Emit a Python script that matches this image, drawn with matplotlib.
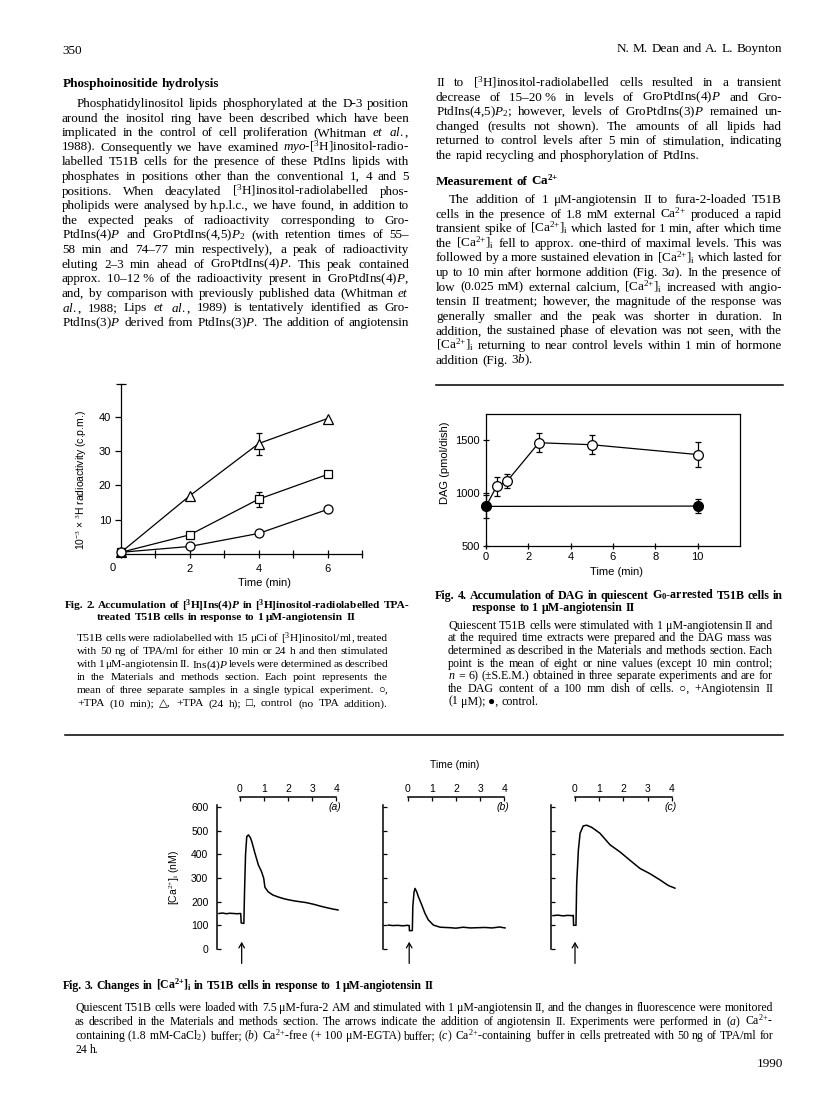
import matplotlib
matplotlib.use('Agg')
import matplotlib.pyplot as plt
import matplotlib.transforms as mtransforms
from matplotlib.lines import Line2D

# --- data ---
fig2_time = [0, 2, 4, 6]
fig2_tpa10 = [0.5, 2.2, 6.0, 13.0]      # circles, +TPA (10 min)
fig2_tpa24 = [0.5, 17.0, 32.2, 39.5]    # triangles, +TPA (24 h)
fig2_control = [0.5, 5.6, 16.0, 23.2]   # squares, control
fig2_tpa24_err = [0, 0, 3.2, 0]
fig2_control_err = [0, 0, 2.2, 0]

fig4_time_ang = [0, 0.5, 1, 2.5, 5, 10]
fig4_dag_ang = [875, 1065, 1115, 1478, 1459, 1366]
fig4_err_ang = [0, 90, 70, 88, 88, 118]
fig4_time_ctl = [0, 10]
fig4_dag_ctl = [875, 878]
fig4_err_ctl = [110, 63]

fig3a_t = [-0.85, -0.7, -0.55, -0.4, -0.25, -0.1, 0.05, 0.07, 0.18, 0.21, 0.25, 0.3, 0.37,
           0.45, 0.51, 0.64, 0.78, 0.91, 1.0, 1.05, 1.18, 1.38, 1.65, 1.85, 2.07, 2.28,
           2.48, 2.7, 2.89, 3.1, 3.31, 3.5, 3.72, 3.9, 4.07]
fig3a_ca = [150, 152, 149, 151, 150, 149, 150, 110, 108, 250, 400, 475, 482,
            470, 453, 404, 355, 327, 299, 261, 242, 228, 218, 212, 207, 203,
            200, 197, 193, 188, 182, 177, 172, 168, 165]
fig3b_t = [-0.79, -0.6, -0.4, -0.2, 0.0, 0.07, 0.08, 0.2, 0.22, 0.27, 0.31, 0.38, 0.45,
           0.59, 0.72, 0.86, 1.07, 1.35, 1.76, 2.0, 2.3, 2.6, 2.9, 3.2, 3.5, 3.8, 4.03]
fig3b_ca = [101, 99, 100, 98, 100, 99, 77, 78, 180, 240, 256, 242, 221,
            186, 151, 123, 101, 92, 90, 88, 92, 89, 90, 91, 89, 93, 89]
fig3c_t = [-0.91, -0.7, -0.5, -0.3, -0.1, -0.07, -0.06, 0.04, 0.07, 0.14, 0.21, 0.34, 0.48,
           0.69, 1.03, 1.45, 1.86, 2.27, 2.69, 3.1, 3.51, 3.86, 4.13]
fig3c_ca = [141, 143, 140, 142, 141, 142, 100, 100, 277, 418, 489, 520, 523,
            514, 489, 440, 410, 375, 340, 318, 292, 268, 257]
fig3_inject = [0.09, 0.07, 0.0]
fig3_panels = ['(a)', '(b)', '(c)']
fig3_scale_ticks = [0, 1, 2, 3, 4]
fig3_yticks = [0, 100, 200, 300, 400, 500, 600]

CA = r"Ca$^{2{+}}$"
CAI = r"[Ca$^{2{+}}$]$_{\mathrm{i}}$"

# --- page text ---
left_col = [
    "Phosphatidylinositol lipids phosphorylated at the D-3 position",
    "around the inositol ring have been described which have been",
    r"implicated in the control of cell proliferation (Whitman $\mathit{et}$ $\mathit{al.}$,",
    r"1988). Consequently we have examined $\mathit{myo}$-[$^{3}$H]inositol-radio-",
    "labelled T51B cells for the presence of these PtdIns lipids with",
    "phosphates in positions other than the conventional 1, 4 and 5",
    r"positions. When deacylated [$^{3}$H]inositol-radiolabelled phos-",
    "pholipids were analysed by h.p.l.c., we have found, in addition to",
    "the expected peaks of radioactivity corresponding to Gro-",
    r"PtdIns(4)$\mathit{P}$ and GroPtdIns(4,5)$\mathit{P}_{2}$ (with retention times of 55–",
    "58 min and 74–77 min respectively), a peak of radioactivity",
    r"eluting 2–3 min ahead of GroPtdIns(4)$\mathit{P}$. This peak contained",
    "approx. 10–12\u00a0% of the radioactivity present in GroPtdIns(4)$\\mathit{P}$,",
    r"and, by comparison with previously published data (Whitman $\mathit{et}$",
    r"$\mathit{al.}$, 1988; Lips $\mathit{et}$ $\mathit{al.}$, 1989) is tentatively identified as Gro-",
    r"PtdIns(3)$\mathit{P}$ derived from PtdIns(3)$\mathit{P}$. The addition of angiotensin",
]
right_col1 = [
    r"II to [$^{3}$H]inositol-radiolabelled cells resulted in a transient",
    "decrease of 15–20\u00a0% in levels of GroPtdIns(4)$\\mathit{P}$ and Gro-",
    r"PtdIns(4,5)$\mathit{P}_{2}$; however, levels of GroPtdIns(3)$\mathit{P}$ remained un-",
    "changed (results not shown). The amounts of all lipids had",
    "returned to control levels after 5 min of stimulation, indicating",
    "the rapid recycling and phosphorylation of PtdIns.",
]
right_col2 = [
    "The addition of 1 μM-angiotensin II to fura-2-loaded T51B",
    "cells in the presence of 1.8 mM external " + CA + " produced a rapid",
    "transient spike of " + CAI + " which lasted for 1 min, after which time",
    "the " + CAI + " fell to approx. one-third of maximal levels. This was",
    "followed by a more sustained elevation in " + CAI + " which lasted for",
    r"up to 10 min after hormone addition (Fig. 3$\mathit{a}$). In the presence of",
    "low (0.025 mM) external calcium, " + CAI + " increased with angio-",
    "tensin II treatment; however, the magnitude of the response was",
    "generally smaller and the peak was shorter in duration. In",
    "addition, the sustained phase of elevation was not seen, with the",
    CAI + " returning to near control levels within 1 min of hormone",
    r"addition (Fig. 3$\mathit{b}$).",
]
fig2_body = [
    r"T51B cells were radiolabelled with 15 μCi of [$^{3}$H]inositol/ml, treated",
    "with 50 ng of TPA/ml for either 10 min or 24 h and then stimulated",
    r"with 1 μM-angiotensin II. Ins(4)$\mathit{P}$ levels were determined as described",
    "in the Materials and methods section. Each point represents the",
    "mean of three separate samples in a single typical experiment. ○,",
    "+TPA (10 min); △, +TPA (24 h); □, control (no TPA addition).",
]
fig4_body = [
    "Quiescent T51B cells were stimulated with 1 μM-angiotensin II and",
    "at the required time extracts were prepared and the DAG mass was",
    "determined as described in the Materials and methods section. Each",
    "point is the mean of eight or nine values (except 10 min control;",
    r"$\mathit{n}$ = 6) (±S.E.M.) obtained in three separate experiments and are for",
    "the DAG content of a 100 mm dish of cells. ○, +Angiotensin II",
    "(1 μM); ●, control.",
]
fig3_body = [
    "Quiescent T51B cells were loaded with 7.5 μM-fura-2 AM and stimulated with 1 μM-angiotensin II, and the changes in fluorescence were monitored",
    r"as described in the Materials and methods section. The arrows indicate the addition of angiotensin II. Experiments were performed in ($\mathit{a}$) " + CA + "-",
    "containing (1.8 mM-CaCl$_{2}$) buffer; ($\\mathit{b}$) " + CA + "-free (+\u00a0100 μM-EGTA) buffer; ($\\mathit{c}$) " + CA + "-containing buffer in cells pretreated with 50 ng of TPA/ml for",
    "24 h.",
]

W, H = 816, 1093
SERIF = ['Liberation Serif', 'DejaVu Sans']
SANS = ['Liberation Sans', 'DejaVu Sans']

plt.rcParams['mathtext.fontset'] = 'custom'
plt.rcParams['mathtext.rm'] = 'Liberation Serif'
plt.rcParams['mathtext.it'] = 'Liberation Serif:italic'
plt.rcParams['mathtext.bf'] = 'Liberation Serif:bold'
plt.rcParams['mathtext.sf'] = 'Liberation Sans'
BFIT = r'\mathit'
if 'mathtext.bfit' in plt.rcParams:
    plt.rcParams['mathtext.bfit'] = 'Liberation Serif:bold:italic'
    BFIT = r'\mathbfit'

fig = plt.figure(figsize=(W / 100, H / 100), dpi=100)
fig.patch.set_facecolor('white')
renderer = fig.canvas.get_renderer()


def px_rect(l, t, r, b):
    return [l / W, 1 - b / H, (r - l) / W, (b - t) / H]


def ftext(x, y, s, **kw):
    return fig.text(x / W, 1 - y / H, s, **kw)


def word_widths(words, size, weight):
    arts = [fig.text(0, 0, w, fontsize=size, fontweight=weight, family=SERIF,
                     va='baseline', ha='left') for w in words]
    return arts, [a.get_window_extent(renderer).width for a in arts]


def fit_size(lines, x0, x1, indent=0, weight='normal', skip_last=True, base=10.0, space=0.24):
    # largest size at which the fullest line still has normal word spacing
    ratios = []
    for i, ln in enumerate(lines):
        if skip_last and i == len(lines) - 1 and len(lines) > 1:
            continue
        words = ln.split(' ')
        arts, ws = word_widths(words, base, weight)
        for a in arts:
            a.remove()
        need = sum(ws) + (len(words) - 1) * base * 100 / 72 * space
        avail = x1 - x0 - (indent if i == 0 else 0)
        ratios.append(avail / need)
    return base * min(ratios)


def text_line(x0, x1, yc, line, size, weight='normal', justify=True, ha='left'):
    words = line.split(' ')
    arts, widths = word_widths(words, size, weight)
    space = size * 100 / 72 * 0.25
    if justify and len(words) > 1:
        gap = (x1 - x0 - sum(widths)) / (len(words) - 1)
    else:
        gap = space
    x = x0
    if ha == 'right':
        x = x1 - sum(widths) - gap * (len(words) - 1)
    base = yc + size * 100 / 72 * 0.3
    for a, w in zip(arts, widths):
        a.set_position((x / W, 1 - base / H))
        x += w + gap


def paragraph(x0, x1, y0, dy, lines, size=None, indent=0, last_left=True, weight='normal'):
    if size is None:
        size = fit_size(lines, x0, x1, indent, weight, skip_last=last_left)
    for i, ln in enumerate(lines):
        xs = x0 + (indent if i == 0 else 0)
        last = (i == len(lines) - 1) and last_left
        text_line(xs, x1, y0 + i * dy, ln, size, weight=weight, justify=not last)
    return size


# --- running text ---
body = min(fit_size(left_col, 62, 409, 15, skip_last=False),
           fit_size(right_col1, 436, 782), fit_size(right_col2, 436, 782, 13))
text_line(62, 120, 50, "350", 9.5, justify=False)
text_line(500, 782, 48, "N. M. Dean and A. L. Boynton", 9.5, justify=False, ha='right')
text_line(63, 400, 83, "Phosphoinositide hydrolysis", body, weight='bold', justify=False)
paragraph(62, 409, 103, 14.6, left_col, body, indent=15, last_left=False)
paragraph(436, 782, 82, 14.6, right_col1, body)
text_line(436, 782, 181, r"Measurement of Ca$^{\mathbf{2{+}}}$", body, weight='bold', justify=False)
paragraph(436, 782, 199, 14.6, right_col2, body, indent=13)

fig.add_artist(Line2D([436 / W, 783 / W], [1 - 385 / H] * 2, color='black', lw=1.1))
fig.add_artist(Line2D([65 / W, 783 / W], [1 - 735 / H] * 2, color='black', lw=1.1))

# caption sizes: figs 2 and 4 share one size
cap4 = fit_size(fig4_body, 448, 773)
cap2 = min(cap4, fit_size(fig2_body, 77, 388, skip_last=False, space=0.12))

# --- Fig. 2 ---
ax2 = fig.add_axes(px_rect(121, 384.2, 362, 554))
for s in ['top', 'right']:
    ax2.spines[s].set_visible(False)
for s in ['left', 'bottom']:
    ax2.spines[s].set_linewidth(0.9)
ax2.set_xlim(0, 7)
ax2.set_ylim(0, 49.5)
kw = dict(color='black', mfc='white', mec='black', lw=0.9, mew=0.9, clip_on=False, zorder=3)
ax2.plot(fig2_time, fig2_tpa24, '-^', ms=7.5, **kw)
ax2.plot(fig2_time, fig2_control, '-s', ms=6, **kw)
ax2.plot(fig2_time, fig2_tpa10, '-o', ms=6.5, **kw)
for yv, ev in [(fig2_tpa24, fig2_tpa24_err), (fig2_control, fig2_control_err)]:
    idx = [i for i, e in enumerate(ev) if e > 0]
    ax2.errorbar([fig2_time[i] for i in idx], [yv[i] for i in idx], yerr=[ev[i] for i in idx],
                 fmt='none', ecolor='black', elinewidth=0.9, capsize=2, capthick=0.9, zorder=2)
ax2.set_xticks(range(0, 8))
ax2.set_xticklabels(['', '', '2', '', '4', '', '6', ''])
ax2.set_yticks([10, 20, 30, 40])
ax2.set_yticks([49.5], minor=True)
ax2.tick_params(axis='x', direction='inout', length=6, width=0.9, labelsize=8, pad=4)
ax2.tick_params(axis='y', direction='out', length=4, width=0.9, labelsize=8, pad=3)
ax2.tick_params(axis='y', which='minor', direction='inout', length=7, width=0.9)
for lab in ax2.get_xticklabels() + ax2.get_yticklabels():
    lab.set_family(SANS)
ax2.annotate('0', xy=(0, 0), xytext=(-8, -14), textcoords='offset pixels', ha='center',
             va='center', fontsize=8, family=SANS)
ftext(265, 583, "Time (min)", fontsize=8, family=SANS, ha='center', va='center')
ftext(82, 480, r"10$^{-3}$ × $^{3}$H radioactivity (c.p.m.)", fontsize=7.5, family=SANS,
      ha='center', va='center', rotation=90)

t2 = r"Fig. 2. Accumulation of [$^{\mathbf{3}}$H]Ins(4)$" + BFIT + r"{P}$ in [$^{\mathbf{3}}$H]inositol-radiolabelled TPA-"
t4 = r"Fig. 4. Accumulation of DAG in quiescent G$_{\mathbf{0}}$-arrested T51B cells in"
cap_t2 = fit_size([t2], 65, 409, weight='bold', skip_last=False)
cap_t4 = fit_size([t4], 435, 783, weight='bold', skip_last=False)
cap_t = 0.5 * (cap_t2 + cap_t4)
text_line(65, 409, 605, t2, cap_t2, weight='bold')
text_line(97, 409, 617, "treated T51B cells in response to 1 μM-angiotensin II", cap_t2, weight='bold', justify=False)
paragraph(77, 388, 638, 13, fig2_body, cap2, last_left=False)

# --- Fig. 4 ---
ax4 = fig.add_axes(px_rect(486, 414, 740, 546))
for s in ax4.spines.values():
    s.set_linewidth(0.9)
ax4.set_xlim(0, 12)
ax4.set_ylim(500, 1750)
ax4.plot(fig4_time_ang, fig4_dag_ang, '-', color='black', lw=0.9, zorder=2)
ax4.errorbar(fig4_time_ang[1:], fig4_dag_ang[1:], yerr=fig4_err_ang[1:], fmt='o', color='black',
             mfc='white', mec='black', ms=7, mew=0.9, elinewidth=0.9, capsize=2, capthick=0.9, zorder=3)
ax4.plot(fig4_time_ctl, fig4_dag_ctl, '-', color='black', lw=0.9, zorder=2)
ax4.errorbar(fig4_time_ctl, fig4_dag_ctl, yerr=fig4_err_ctl, fmt='o', color='black', ms=7,
             elinewidth=0.9, capsize=2, capthick=0.9, zorder=4, clip_on=False)
ax4.set_xticks([0, 2, 4, 6, 8, 10])
ax4.set_yticks([500, 1000, 1500])
ax4.tick_params(direction='inout', length=5, width=0.9, labelsize=8, pad=2)
for lab in ax4.get_xticklabels() + ax4.get_yticklabels():
    lab.set_family(SANS)
ftext(617, 572, "Time (min)", fontsize=8, family=SANS, ha='center', va='center')
ftext(445, 463, "DAG (pmol/dish)", fontsize=8, family=SANS, ha='center', va='center', rotation=90)

text_line(435, 783, 595, t4, cap_t4, weight='bold')
text_line(472, 783, 607, "response to 1 μM-angiotensin II", cap_t4, weight='bold', justify=False)
paragraph(448, 773, 625, 12.7, fig4_body, cap4)

# --- Fig. 3 ---
traces = [(fig3a_t, fig3a_ca), (fig3b_t, fig3b_ca), (fig3c_t, fig3c_ca)]
zero_px = [239.5, 407.5, 575.0]     # pixel of t = 0 in each panel
axis_px = [216.7, 382.7, 550.7]     # pixel of the y axis line
px_per_min = 24.2
y0_px, px_per_nm, top_nm = 949.0, 0.2367, 610
for k in range(3):
    left = axis_px[k]
    right = zero_px[k] + 4.3 * px_per_min
    ax = fig.add_axes(px_rect(left, y0_px - top_nm * px_per_nm, right, y0_px))
    ax.patch.set_alpha(0)
    for s in ['top', 'right', 'bottom']:
        ax.spines[s].set_visible(False)
    ax.spines['left'].set_linewidth(1.1)
    ax.set_xlim((left - zero_px[k]) / px_per_min, 4.3)
    ax.set_ylim(0, top_nm)
    ax.plot(traces[k][0], traces[k][1], color='black', lw=1.1)
    ax.set_xticks([])
    ax.set_yticks(fig3_yticks)
    ax.tick_params(axis='y', direction='in', length=3, width=0.9, labelsize=7.5, pad=6)
    if k > 0:
        ax.set_yticklabels([])
    for lab in ax.get_yticklabels():
        lab.set_family(SANS)
    blend = mtransforms.blended_transform_factory(ax.transData, ax.transAxes)
    ax.annotate('', xy=(fig3_inject[k], 0.05), xytext=(fig3_inject[k], -0.1),
                xycoords=blend, textcoords=blend,
                arrowprops=dict(arrowstyle='->,head_length=0.35,head_width=0.2', lw=0.9,
                                color='black', shrinkA=0, shrinkB=0), annotation_clip=False)
    ax.text(0.985, 0.985, fig3_panels[k], transform=ax.transAxes, ha='right', va='center',
            fontsize=7.5, family=SANS, style='italic')

    # time scale bar above the trace
    sc = fig.add_axes(px_rect(zero_px[k], 797, zero_px[k] + 4 * px_per_min, 799))
    sc.patch.set_alpha(0)
    for s in ['left', 'right', 'bottom']:
        sc.spines[s].set_visible(False)
    sc.spines['top'].set_linewidth(1.1)
    sc.set_xlim(0, 4)
    sc.set_yticks([])
    sc.set_xticks(fig3_scale_ticks)
    sc.xaxis.set_ticks_position('top')
    sc.tick_params(axis='x', direction='in', length=3, width=0.9, labelsize=7.5, pad=2,
                   labeltop=True, labelbottom=False)
    for lab in sc.get_xticklabels():
        lab.set_family(SANS)

ftext(455, 765, "Time (min)", fontsize=7.5, family=SANS, ha='center', va='center')
ftext(175, 877, r"[Ca$^{2{+}}$]$_{\mathrm{i}}$ (nM)", fontsize=7.5, family=SANS, ha='center',
      va='center', rotation=90)

text_line(63, 700, 985, r"Fig. 3. Changes in [Ca$^{\mathbf{2{+}}}$]$_{\mathbf{i}}$ in T51B cells in response to 1 μM-angiotensin II",
          cap_t, weight='bold', justify=False)
paragraph(75, 773, 1007, 14.3, fig3_body)
text_line(700, 783, 1063, "1990", 9.5, justify=False, ha='right')

fig.savefig('out.png', dpi=100, facecolor='white')
